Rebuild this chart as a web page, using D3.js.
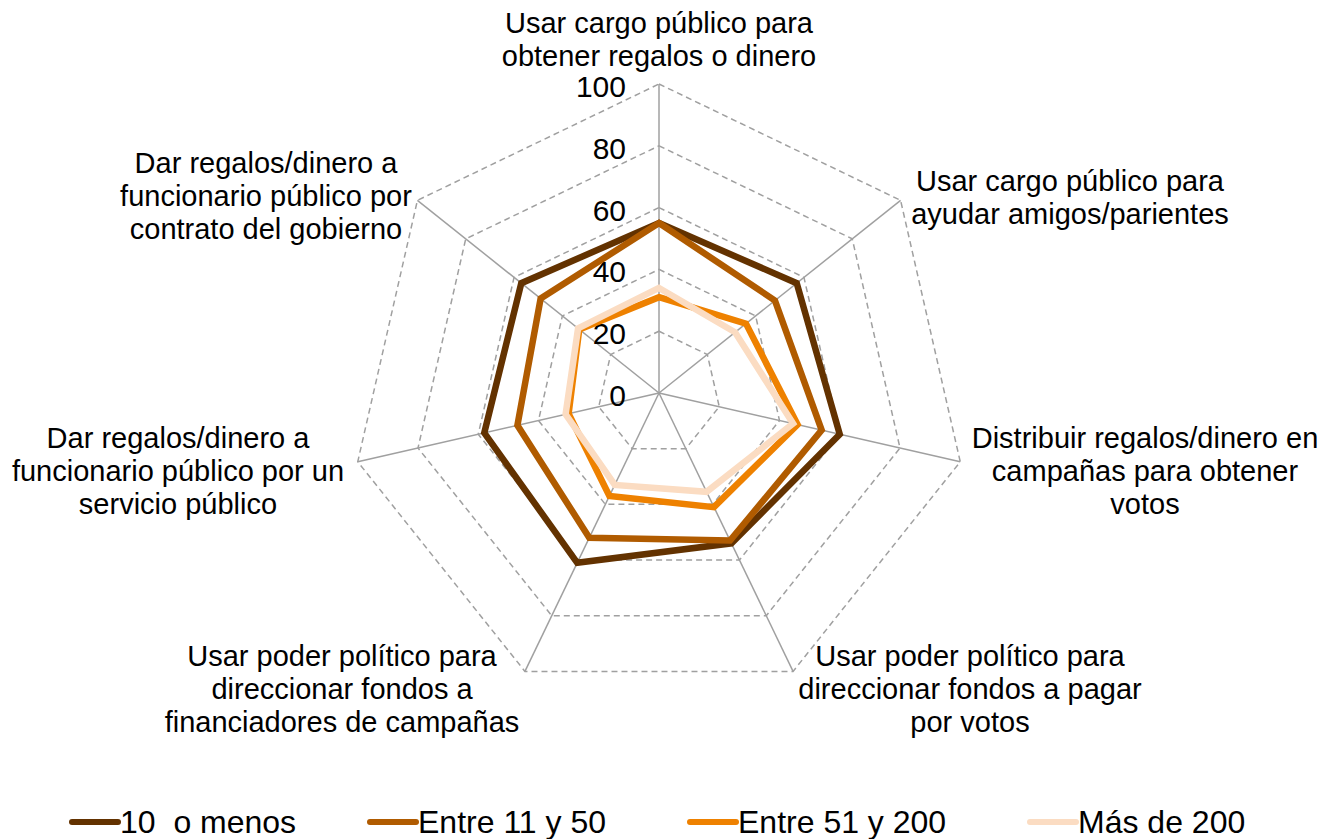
<!DOCTYPE html>
<html>
<head>
<meta charset="utf-8">
<script src="https://cdn.jsdelivr.net/npm/d3@7"></script>
<style>
  body { margin: 0; background: #fff; }
  svg { display: block; font-family: "Liberation Sans", Arial, sans-serif; }
</style>
</head>
<body>
<script>
//// Data ////
const categories = [
  ["Usar cargo público para", "obtener regalos o dinero"],
  ["Usar cargo público para", "ayudar amigos/parientes"],
  ["Distribuir regalos/dinero en", "campañas para obtener", "votos"],
  ["Usar poder político para", "direccionar fondos a pagar", "por votos"],
  ["Usar poder político para", "direccionar fondos a", "financiadores de campañas"],
  ["Dar regalos/dinero a", "funcionario público por un", "servicio público"],
  ["Dar regalos/dinero a", "funcionario público por", "contrato del gobierno"]
]
const seriesNames = ["10  o menos", "Entre 11 y 50", "Entre 51 y 200", "Más de 200"]
const seriesColors = ["#633200", "#b05b00", "#ee8100", "#fbdcc2"]
const values10 = [55, 57, 60, 54, 61, 58, 57]
const values11_50 = [55, 48, 54, 53, 52, 47, 49]
const values51_200 = [31, 36, 46, 41, 37, 30, 33]
const values200 = [34, 31.5, 44.5, 35.5, 33, 31, 33.5]
const allSeries = [values10, values11_50, values51_200, values200]
const ticks = [0, 20, 40, 60, 80, 100]

//// Layout ////
const WIDTH = 1325
const HEIGHT = 839
const CX = 659
const CY = 393
const RADIUS = 309

// where each category label sits (center x, first line baseline)
const labelPos = [
  [659, 33], [1070, 191], [1145, 448], [970, 666],
  [342, 666], [178, 448], [266, 173]
]
const LINE_H = 32.8

const svg = d3.select("body").append("svg")
  .attr("width", WIDTH)
  .attr("height", HEIGHT)

const r = d3.scaleLinear().domain([0, 100]).range([0, RADIUS])
const angle = d3.scaleLinear().domain([0, categories.length]).range([0, 2 * Math.PI])

function point(i, v) {
  const a = angle(i)
  return [CX + r(v) * Math.sin(a), CY - r(v) * Math.cos(a)]
}

// rings
ticks.filter(t => t > 0).forEach(t => {
  svg.append("polygon")
    .attr("points", categories.map((c, i) => point(i, t).join(",")).join(" "))
    .attr("fill", "none")
    .attr("stroke", "#a0a0a0")
    .attr("stroke-width", 1.5)
    .attr("stroke-dasharray", "6,4")
})

// spokes
categories.forEach((c, i) => {
  const [x, y] = point(i, 100)
  svg.append("line")
    .attr("x1", CX).attr("y1", CY)
    .attr("x2", x).attr("y2", y)
    .attr("stroke", "#a0a0a0")
    .attr("stroke-width", 1.5)
})

// tick labels
ticks.forEach(t => {
  svg.append("text")
    .attr("x", CX - 33)
    .attr("y", CY - r(t) + 13)
    .attr("text-anchor", "end")
    .attr("font-size", 30)
    .attr("fill", "#000")
    .text(t)
})

// series
const line = d3.line().curve(d3.curveLinearClosed)
allSeries.forEach((vals, s) => {
  svg.append("path")
    .attr("d", line(vals.map((v, i) => point(i, v))))
    .attr("fill", "none")
    .attr("stroke", seriesColors[s])
    .attr("stroke-width", 6.5)
    .attr("stroke-linejoin", "miter")
})

// category labels
categories.forEach((lines, i) => {
  const t = svg.append("text")
    .attr("text-anchor", "middle")
    .attr("font-size", 29)
    .attr("fill", "#000")
  lines.forEach((l, k) => {
    t.append("tspan")
      .attr("x", labelPos[i][0])
      .attr("y", labelPos[i][1] + k * LINE_H)
      .text(l)
  })
})

// legend
const legendX = [72, 370, 690, 1030]
seriesNames.forEach((name, s) => {
  const g = svg.append("g").attr("transform", `translate(${legendX[s]},822)`)
  g.append("line")
    .attr("x1", 0).attr("x2", 46)
    .attr("stroke", seriesColors[s])
    .attr("stroke-width", 6)
    .attr("stroke-linecap", "round")
  g.append("text")
    .attr("x", 48)
    .attr("y", 11)
    .attr("font-size", 32)
    .attr("fill", "#000")
    .style("white-space", "pre")
    .text(name)
})
</script>
</body>
</html>
